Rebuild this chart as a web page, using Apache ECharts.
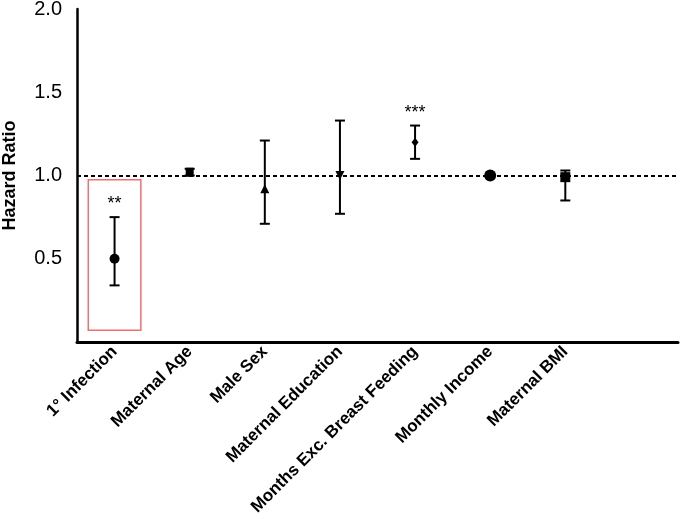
<!DOCTYPE html>
<html>
<head>
<meta charset="utf-8">
<script src="https://cdn.jsdelivr.net/npm/echarts@6/dist/echarts.min.js"></script>
<style>
  html, body { margin: 0; padding: 0; background: #fff; }
  #chart { width: 680px; height: 519px; }
</style>
</head>
<body>
<div id="chart"></div>
<script>
// hazard ratios with 95% CI
const categories = [
  "1° Infection",
  "Maternal Age",
  "Male Sex",
  "Maternal Education",
  "Months Exc. Breast Feeding",
  "Monthly Income",
  "Maternal BMI",
  ""
];
const hazard = [0.50, 1.02, 0.92, 1.00, 1.20, 1.00, 0.99];
const lower = [0.34, 1.00, 0.71, 0.77, 1.10, 0.995, 0.85];
const upper = [0.75, 1.04, 1.21, 1.33, 1.30, 1.005, 1.03];
const stars = ["**", "", "", "", "***", "", ""];
const yTicks = [0.5, 1.0, 1.5, 2.0];
// highlighted box around the first estimate: [category, bottom, top]
const highlight = [[0, 0.07, 0.975]];

const markers = [
  { symbol: "circle", size: 10 },
  { symbol: "rect", size: [8, 9] },
  { symbol: "triangle", size: 9 },
  { symbol: "triangle", size: 9, rotate: 180 },
  { symbol: "diamond", size: [7, 9] },
  { symbol: "circle", size: 12 },
  { symbol: "rect", size: 10 }
];

const chart = echarts.init(document.getElementById("chart"));

const font = "Liberation Sans, Arial, sans-serif";

chart.setOption({
  animation: false,
  backgroundColor: "#fff",
  grid: { left: 77, right: 2, top: 9, bottom: 177, containLabel: false, outerBoundsMode: "none" },
  xAxis: {
    type: "category",
    data: categories,
    boundaryGap: true,
    axisLine: { lineStyle: { color: "#000", width: 3 } },
    axisTick: { show: false },
    axisLabel: {
      rotate: 45,
      margin: 7,
      interval: 0,
      color: "#000",
      fontFamily: font,
      fontWeight: "bold",
      fontSize: 17
    },
    splitLine: { show: false }
  },
  yAxis: {
    type: "value",
    min: 0,
    max: 2,
    interval: 0.5,
    name: "Hazard Ratio",
    nameLocation: "middle",
    nameGap: 58,
    nameTextStyle: { color: "#000", fontFamily: font, fontWeight: "bold", fontSize: 18 },
    axisLine: { show: true, lineStyle: { color: "#000", width: 2.5 } },
    axisTick: { show: false },
    axisLabel: {
      color: "#000",
      fontFamily: font,
      fontSize: 20,
      margin: 15,
      formatter: (v) => (yTicks.includes(v) ? v.toFixed(1) : "")
    },
    splitLine: { show: false }
  },
  series: [
    {
      type: "custom",
      name: "highlight",
      data: highlight,
      z: 1,
      renderItem: (params, api) => {
        const top = api.coord([api.value(0), api.value(2)]);
        const bottom = api.coord([api.value(0), api.value(1)]);
        const w = api.size([1, 0])[0] * 0.7;
        return {
          type: "rect",
          shape: { x: top[0] - w / 2, y: top[1], width: w, height: bottom[1] - top[1] },
          style: { fill: "none", stroke: "#f07070", lineWidth: 1.5 }
        };
      }
    },
    {
      type: "custom",
      name: "ci",
      data: categories.slice(0, hazard.length).map((c, i) => [i, lower[i], upper[i]]),
      z: 2,
      renderItem: (params, api) => {
        const i = params.dataIndex;
        const lo = api.coord([api.value(0), api.value(1)]);
        const hi = api.coord([api.value(0), api.value(2)]);
        const half = 5;
        const stroke = { stroke: "#000", lineWidth: 2 };
        const children = [
          { type: "line", shape: { x1: lo[0], y1: lo[1], x2: hi[0], y2: hi[1] }, style: stroke },
          { type: "line", shape: { x1: lo[0] - half, y1: lo[1], x2: lo[0] + half, y2: lo[1] }, style: stroke },
          { type: "line", shape: { x1: hi[0] - half, y1: hi[1], x2: hi[0] + half, y2: hi[1] }, style: stroke }
        ];
        if (stars[i]) {
          children.push({
            type: "text",
            x: hi[0],
            y: hi[1] - 4,
            style: {
              text: stars[i],
              fill: "#000",
              font: "18px " + font,
              textAlign: "center",
              textVerticalAlign: "bottom"
            }
          });
        }
        return { type: "group", children };
      },
      markLine: {
        silent: true,
        symbol: "none",
        label: { show: false },
        lineStyle: { color: "#000", type: [4, 3], width: 2 },
        data: [{ yAxis: 1 }]
      }
    },
    {
      type: "scatter",
      name: "hr",
      z: 3,
      itemStyle: { color: "#000", opacity: 1 },
      data: hazard.map((v, i) => ({
        value: [i, v],
        symbol: markers[i].symbol,
        symbolSize: markers[i].size,
        symbolRotate: markers[i].rotate || 0
      }))
    }
  ]
});
</script>
</body>
</html>
